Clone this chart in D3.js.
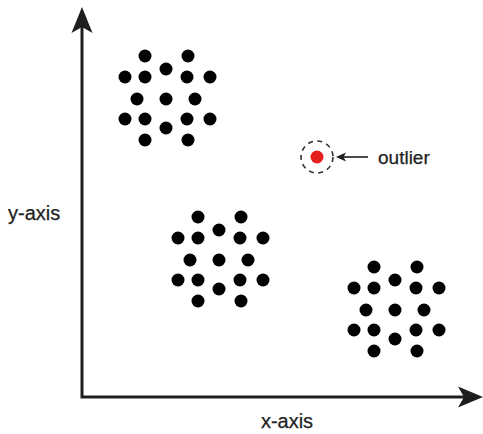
<!DOCTYPE html>
<head>
  <meta charset="utf-8">
  <title>Outlier</title>
  <script src="https://d3js.org/d3.v7.min.js"></script>
  <style>
    body { margin: 0; background: #fff; }
    text {
      font-family: "Liberation Sans", Arial, sans-serif;
      fill: #222;
      stroke: #222;
      stroke-width: 0.25px;
    }
  </style>
</head>

<body>
  <script>
    // point positions (x, y in chart units)
    var clusterA = [
      [63, 341], [106, 341],
      [43, 320], [63, 320], [84, 328], [105, 320], [128, 320],
      [55, 298], [84, 298], [113, 298],
      [43, 278], [63, 278], [84, 269], [105, 278], [128, 278],
      [63, 257], [106, 257]
    ];
    var clusterB = [
      [116, 180], [159, 180],
      [96, 159], [116, 159], [137, 167], [158, 159], [181, 159],
      [108, 137], [137, 137], [166, 137],
      [96, 117], [116, 117], [137, 108], [158, 117], [181, 117],
      [116, 96], [159, 96]
    ];
    var clusterC = [
      [292, 130], [335, 130],
      [272, 109], [292, 109], [313, 117], [334, 109], [357, 109],
      [284, 87], [313, 87], [342, 87],
      [272, 67], [292, 67], [313, 58], [334, 67], [357, 67],
      [292, 46], [335, 46]
    ];
    var outlier = [235, 240];
    var labels = { x: "x-axis", y: "y-axis", outlier: "outlier" };

    var width = 483,
        height = 434,
        originX = 82,
        originY = 397,
        svg = d3.select("body").append("svg")
          .attr("width", width)
          .attr("height", height),
        x = d3.scaleLinear().domain([0, 400]).range([originX, originX + 400]),
        y = d3.scaleLinear().domain([0, 390]).range([originY, originY - 390]);

    var ink = "#1e1e1e";

    // axes
    svg.append("path")
      .attr("d", "M" + x(0) + "," + (y(0) + 1.5) + "V" + (y(390) + 14)
        + "M" + (x(0) - 1.5) + "," + y(0) + "H" + (x(400) - 14))
      .attr("fill", "none")
      .attr("stroke", ink)
      .attr("stroke-width", 3);

    // arrowheads (concave)
    function head(tx, ty, angle, len, half, notch) {
      var p = d3.path();
      p.moveTo(0, 0);
      p.lineTo(-len, -half);
      p.lineTo(-len + notch, 0);
      p.lineTo(-len, half);
      p.closePath();
      svg.append("path")
        .attr("d", p.toString())
        .attr("transform", "translate(" + tx + "," + ty + ") rotate(" + angle + ")")
        .attr("fill", ink);
    }
    head(x(0), y(390), -90, 26, 10.5, 6);
    head(x(400) + 1, y(0), 0, 25, 10.5, 6);

    var dots = [].concat(clusterA, clusterB, clusterC);
    svg.selectAll(".dot")
      .data(dots)
      .enter().append("circle")
        .attr("class", "dot")
        .attr("cx", function (d) { return x(d[0]); })
        .attr("cy", function (d) { return y(d[1]); })
        .attr("r", 6.5)
        .attr("fill", "#000");

    // outlier
    var ox = x(outlier[0]), oy = y(outlier[1]);
    svg.append("circle")
      .attr("cx", ox)
      .attr("cy", oy)
      .attr("r", 16)
      .attr("fill", "none")
      .attr("stroke", "#333")
      .attr("stroke-width", 1.6)
      .attr("stroke-dasharray", "5,4.4");
    svg.append("circle")
      .attr("cx", ox)
      .attr("cy", oy)
      .attr("r", 6.5)
      .attr("fill", "#e4201f");

    // pointer arrow
    svg.append("line")
      .attr("x1", ox + 22)
      .attr("x2", ox + 51)
      .attr("y1", oy)
      .attr("y2", oy)
      .attr("stroke", ink)
      .attr("stroke-width", 1.6);
    head(ox + 19, oy, 180, 10, 4.5, 2.5);

    svg.append("text")
      .attr("x", ox + 61)
      .attr("y", oy)
      .attr("dy", "0.35em")
      .attr("font-size", "19px")
      .text(labels.outlier);

    svg.append("text")
      .attr("x", 8)
      .attr("y", 213)
      .attr("dy", "0.35em")
      .attr("font-size", "20px")
      .text(labels.y);

    svg.append("text")
      .attr("x", 287)
      .attr("y", 421)
      .attr("dy", "0.35em")
      .attr("text-anchor", "middle")
      .attr("font-size", "20px")
      .text(labels.x);
  </script>
</body>
